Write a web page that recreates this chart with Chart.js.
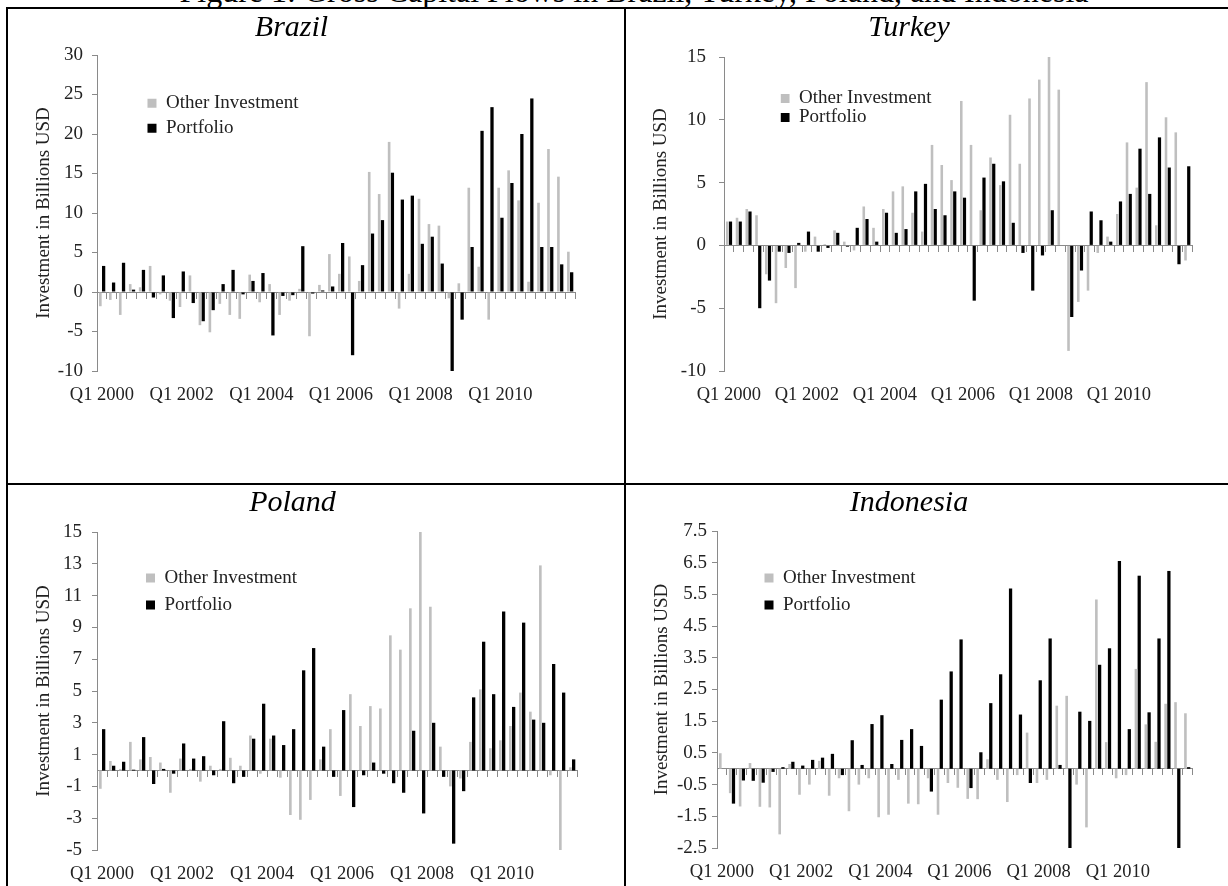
<!DOCTYPE html>
<html>
<head>
<meta charset="utf-8">
<script src="https://cdn.jsdelivr.net/npm/chart.js@4.4.1/dist/chart.umd.min.js"></script>
<style>
  body { margin: 0; width: 1228px; height: 886px; overflow: hidden; background: #fff; position: relative;
         font-family: "Liberation Serif", "Times New Roman", serif; }
  .rule { position: absolute; background: #000; }
  canvas { position: absolute; }
  #figTitle { position: absolute; left: 0; top: -25px; width: 1268px; text-align: center;
              font-size: 32px; line-height: 32px; white-space: nowrap; color: #000; }
</style>
</head>
<body>
<div id="figTitle">Figure 1: Gross Capital Flows in Brazil, Turkey, Poland, and Indonesia</div>
<div class="rule" style="left:6px;top:7px;width:1222px;height:2px"></div>
<div class="rule" style="left:6px;top:7px;width:2px;height:879px"></div>
<div class="rule" style="left:624px;top:7px;width:2px;height:879px"></div>
<div class="rule" style="left:6px;top:483px;width:1222px;height:2px"></div>
<canvas id="brazil" width="616" height="474" style="left:8px;top:9px"></canvas>
<canvas id="turkey" width="602" height="474" style="left:626px;top:9px"></canvas>
<canvas id="poland" width="616" height="401" style="left:8px;top:485px"></canvas>
<canvas id="indonesia" width="602" height="401" style="left:626px;top:485px"></canvas>
<script>
// quarterly categories Q1 2000 .. Q4 2011
const years = [2000, 2001, 2002, 2003, 2004, 2005, 2006, 2007, 2008, 2009, 2010, 2011];
const quarterNames = ['Q1', 'Q2', 'Q3', 'Q4'];
const quarters = [];
years.forEach(y => quarterNames.forEach(q => quarters.push(q + ' ' + y)));
const tickLabels = ['Q1 2000', 'Q1 2002', 'Q1 2004', 'Q1 2006', 'Q1 2008', 'Q1 2010'];
const seriesNames = ['Other Investment', 'Portfolio'];

// billions USD
const brazilOther = [-1.8, -1.0, -2.9, 1.0, 0.6, 3.3, -0.3, -1.1, -1.9, 2.1,
  -4.2, -5.1, -1.5, -2.9, -3.4, 2.2, -1.3, 1.0, -2.9, -1.1,
  0.4, -5.6, 0.9, 4.8, 2.3, 4.5, 1.4, 15.2, 12.4, 19.0,
  -2.1, 2.3, 11.8, 8.6, 8.4, -0.8, 1.1, 13.2, 3.2, -3.5,
  13.2, 15.4, 11.6, 1.3, 11.3, 18.1, 14.6, 5.1];
const brazilPortfolio = [3.3, 1.2, 3.7, 0.3, 2.8, -0.7, 2.1, -3.3, 2.6, -1.4,
  -3.7, -2.3, 1.0, 2.8, -0.3, 1.4, 2.4, -5.5, -0.5, -0.4,
  5.8, -0.2, 0.2, 0.7, 6.2, -8.0, 3.4, 7.4, 9.1, 15.1,
  11.7, 12.2, 6.1, 7.0, 3.6, -10.0, -3.5, 5.7, 20.4, 23.4,
  9.4, 13.8, 20.0, 24.5, 5.7, 5.7, 3.5, 2.5];

const turkeyOther = [1.9, 2.2, 2.9, 2.4, -2.3, -4.6, -1.8, -3.4, -0.5, 0.7,
  0.1, 1.2, 0.3, -0.4, 3.1, 1.4, 2.9, 4.3, 4.7, 2.6,
  1.1, 8.0, 6.4, 5.2, 11.5, 8.0, 2.8, 7.0, 4.8, 10.4,
  6.5, 11.7, 13.2, 15.0, 12.4, -8.4, -4.5, -3.6, -0.6, 0.7,
  2.5, 8.2, 4.6, 13.0, 1.6, 10.2, 9.0, -1.2];
const turkeyPortfolio = [1.9, 1.9, 2.7, -5.0, -2.8, -0.5, -0.6, 0.2, 1.1, -0.5,
  -0.2, 1.0, -0.1, 1.4, 2.1, 0.3, 2.6, 1.0, 1.3, 4.3,
  4.9, 2.9, 2.4, 4.3, 3.8, -4.4, 5.4, 6.5, 5.1, 1.8,
  -0.6, -3.6, -0.8, 2.8, 0.0, -5.7, -2.0, 2.7, 2.0, 0.3,
  3.5, 4.1, 7.7, 4.1, 8.6, 6.2, -1.5, 6.3];

const polandOther = [-1.15, 0.6, 0.1, 1.8, 0.7, 0.85, 0.5, -1.4, 0.75, 0.1,
  -0.7, 0.3, 0.1, 0.8, 0.3, 2.2, -0.2, 2.0, -0.45, -2.8,
  -3.1, -1.85, 0.7, 2.6, -1.6, 4.8, 2.8, 4.05, 3.9, 8.5,
  7.6, 10.2, 15.0, 10.3, 1.5, -1.0, -0.5, 1.8, 5.1, 1.4,
  1.9, 2.8, 4.9, 3.7, 12.9, -0.3, -5.0, 0.2];
const polandPortfolio = [2.6, 0.3, 0.55, 0.05, 2.1, -0.85, 0.1, -0.2, 1.7, 0.75,
  0.9, -0.3, 3.1, -0.8, -0.4, 2.0, 4.2, 2.2, 1.6, 2.6,
  6.3, 7.7, 1.5, -0.4, 3.8, -2.3, -0.3, 0.5, -0.2, -0.8,
  -1.4, 2.5, -2.7, 3.0, -0.4, -4.6, -1.3, 4.6, 8.1, 4.8,
  10.0, 4.0, 9.3, 3.2, 3.0, 6.7, 4.9, 0.7];

const indonesiaOther = [0.49, -0.77, -1.19, 0.18, -1.2, -1.22, -2.07, 0.15, -0.82, -0.5,
  0.25, -0.85, -0.3, -1.34, -0.5, -0.3, -1.53, -1.45, -0.35, -1.1,
  -1.12, -0.3, -1.45, -0.45, -0.6, -0.95, -0.96, 0.3, -0.35, -1.05,
  -0.2, 1.14, -0.45, -0.35, 1.99, 2.3, -0.5, -1.85, 5.34, 0.84,
  -0.3, -0.2, 3.15, 1.4, 0.85, 2.05, 2.1, 1.75];
const indonesiaPortfolio = [0.0, -1.1, -0.37, -0.38, -0.44, -0.1, 0.05, 0.22, 0.1, 0.28,
  0.35, 0.47, -0.2, 0.9, 0.12, 1.41, 1.69, 0.15, 0.91, 1.25,
  0.72, -0.72, 2.18, 3.07, 4.08, -0.61, 0.52, 2.07, 2.98, 5.69,
  1.71, -0.45, 2.79, 4.11, 0.12, -2.5, 1.8, 1.51, 3.28, 3.8,
  6.55, 1.25, 6.09, 1.78, 4.11, 6.24, -2.5, 0.05];

const axisGray = '#8a8a8a';
const otherGray = '#bfbfbf';
Chart.defaults.font.family = '"Liberation Serif", "Times New Roman", serif';
Chart.defaults.font.size = 19;
Chart.defaults.color = '#222';

// moves the chartArea legend to a spot given in category / value units
const legendSpot = {
  id: 'legendSpot',
  afterLayout(chart, args, opts) {
    const lg = chart.legend, x = chart.scales.x, y = chart.scales.y;
    const step = x.getPixelForValue(1) - x.getPixelForValue(0);
    const pad = lg.options.labels.padding;
    lg.left = x.getPixelForValue(0) - step / 2 + opts.cat * step - pad;
    lg.top = y.getPixelForValue(opts.val) - 9.5 - pad;
  }
};

function drawPanel(id, title, other, portfolio, p) {
  new Chart(document.getElementById(id), {
    type: 'bar',
    data: {
      labels: quarters,
      datasets: [
        { label: seriesNames[0], data: other, backgroundColor: otherGray, borderWidth: 0,
          barPercentage: 0.8, categoryPercentage: 0.66, xAxisID: 'x', yAxisID: 'y' },
        { label: seriesNames[1], data: portfolio, backgroundColor: '#000', borderWidth: 0,
          barPercentage: 1, categoryPercentage: 0.66, xAxisID: 'x', yAxisID: 'y' }
      ]
    },
    options: {
      responsive: false,
      animation: false,
      devicePixelRatio: 1,
      layout: { padding: { left: 0, right: p.right, top: 0, bottom: 0 } },
      plugins: {
        title: { display: true, text: title, color: '#000',
                 font: { size: 30, style: 'italic', weight: 'normal' },
                 padding: { top: p.titleTop, bottom: p.titleBottom } },
        legend: { position: 'chartArea', align: 'start',
                  labels: { boxWidth: 9, boxHeight: 9, padding: p.legendGap, color: '#222', font: { size: 19 } } },
        legendSpot: { cat: p.legendCat, val: p.legendVal },
        tooltip: { enabled: false }
      },
      scales: {
        x: {
          type: 'category', position: { y: 0 }, offset: true,
          grid: { offset: true, drawOnChartArea: false, tickLength: 6, color: axisGray },
          border: { color: axisGray },
          ticks: { display: false }
        },
        xl: {
          type: 'category', labels: quarters, position: 'bottom', offset: true,
          grid: { display: false, drawTicks: false },
          border: { display: false },
          ticks: { autoSkip: false, maxRotation: 0, minRotation: 0, padding: 13, font: { size: 18.5 },
                   callback: v => tickLabels.includes(quarters[v]) ? quarters[v] : '' },
          afterFit: s => { s.height = p.bottom; }
        },
        y: {
          min: p.min, max: p.max,
          grid: { drawOnChartArea: false, tickLength: 5, color: axisGray },
          border: { color: axisGray },
          ticks: { stepSize: p.step, padding: p.tickPad,
                   callback: v => p.decimals ? v.toFixed(p.decimals) : v },
          title: { display: true, text: 'Investment in Billions USD', color: '#222',
                   font: { size: 19 }, padding: { top: p.yTitlePad, bottom: 0 } },
          afterFit: s => { s.width = p.yWidth; }
        }
      }
    },
    plugins: [legendSpot]
  });
}

drawPanel('brazil', 'Brazil', brazilOther, brazilPortfolio,
  { min: -10, max: 30, step: 5, decimals: 0, yWidth: 89, right: 49, titleTop: 1, titleBottom: 9,
    bottom: 112, yTitlePad: 25, tickPad: 9, legendCat: 5.07, legendVal: 23.9, legendGap: 6 });
drawPanel('turkey', 'Turkey', turkeyOther, turkeyPortfolio,
  { min: -10, max: 15, step: 5, decimals: 0, yWidth: 98, right: 36, titleTop: 1, titleBottom: 11,
    bottom: 112, yTitlePad: 24, tickPad: 13, legendCat: 5.8, legendVal: 11.7, legendGap: 0 });
drawPanel('poland', 'Poland', polandOther, polandPortfolio,
  { min: -5, max: 15, step: 2, decimals: 0, yWidth: 89, right: 47, titleTop: 0, titleBottom: 11,
    bottom: 36, yTitlePad: 25, tickPad: 10, legendCat: 4.9, legendVal: 12.1, legendGap: 8 });
drawPanel('indonesia', 'Indonesia', indonesiaOther, indonesiaPortfolio,
  { min: -2.5, max: 7.5, step: 1, decimals: 1, yWidth: 91, right: 36, titleTop: 0, titleBottom: 10,
    bottom: 38, yTitlePad: 25, tickPad: 5, legendCat: 4.8, legendVal: 6.02, legendGap: 8 });
</script>
</body>
</html>
